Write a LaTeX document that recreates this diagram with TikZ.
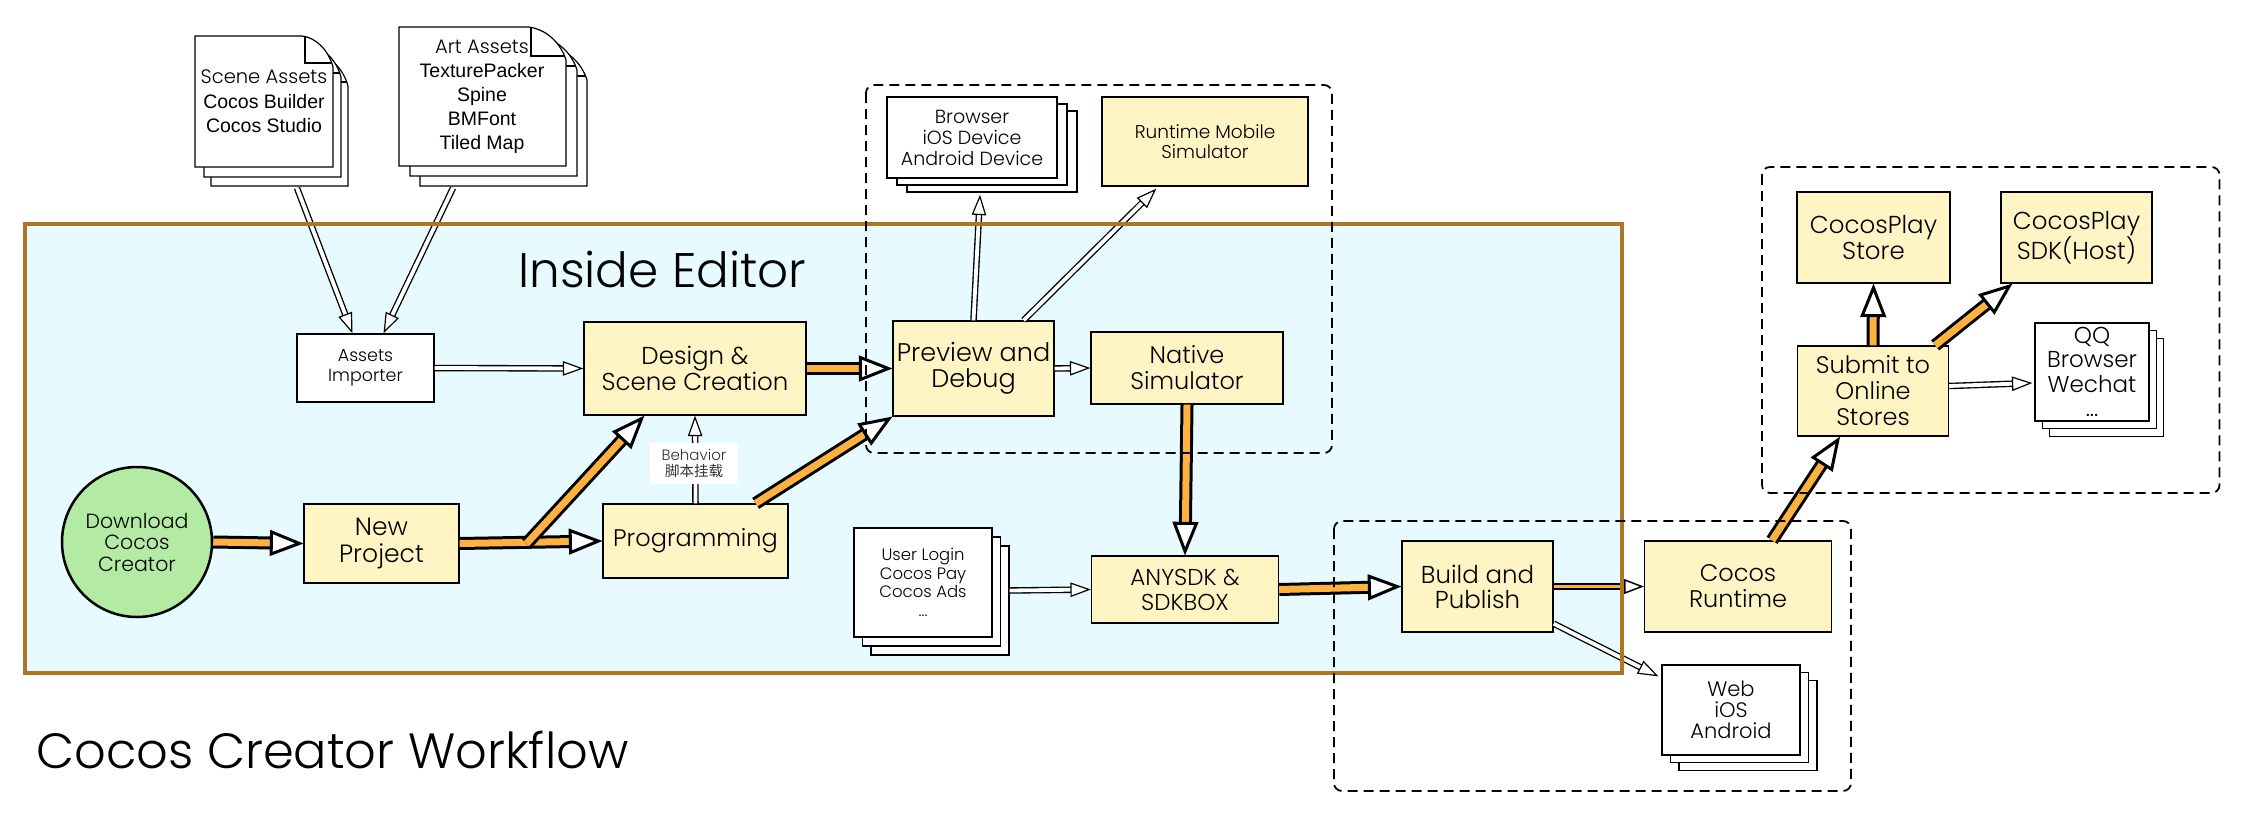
\documentclass[tikz,border=0pt]{standalone}
\usepackage{fontspec}
\setmainfont{Poppins Light}
\newfontfamily\arialf{Liberation Sans}
\newfontfamily\cjk{Noto Sans CJK SC}
\usetikzlibrary{calc}
\definecolor{boxy}{HTML}{FFF5C4}
\definecolor{edbg}{HTML}{E6FAFF}
\definecolor{edborder}{HTML}{AF7621}
\definecolor{dlgreen}{HTML}{B3EBA5}
\definecolor{arrorange}{HTML}{FDB13F}
\newcommand\fs[2]{\fontsize{#1bp}{#2bp}\selectfont}
% generic arrow: #1 outer body, #2 inner body, #3 inner colour, #4 head length,
% #5 head half width, #6 head outline, #7 tip inset, #8 start, #9 end
\newcommand\arrowX[9]{%
  \coordinate (aS) at (#8);
  \coordinate (aE) at (#9);
  \coordinate (aT) at ($(aE)!#7bp!(aS)$);
  \coordinate (aB) at ($(aT)!#4bp!(aS)$);
  \coordinate (aC) at ($(aB)!-1bp!(aS)$);
  \draw[line width=#1bp, black] (aS) -- (aC);
  \draw[line width=#2bp, #3] (aS) -- (aC);
  \draw[line width=#6bp, fill=white, line join=miter, miter limit=20]
     (aT) -- ($(aB)!#5bp!90:(aT)$) -- ($(aB)!#5bp!-90:(aT)$) -- cycle;
}
\newcommand\fatarr[2]{\arrowX{13}{7}{arrorange}{28}{11}{3}{4}{#1}{#2}}
\newcommand\smallarr[2]{\arrowX{7}{3.6}{arrorange}{17}{6.5}{1.5}{2}{#1}{#2}}
\newcommand\dblarr[2]{\arrowX{6.5}{3.8}{white}{18}{6.5}{1.2}{1.8}{#1}{#2}}
% page with curled corner: x0 y0 x1 y1 fw fh
\newcommand\docpage[6]{%
  \draw[line width=1.2bp, fill=white] (#1,#2) -- ({#3-#5},#2)
     .. controls ({#3-#5*0.55},{#2+#6*0.05}) and ({#3-#5*0.15},{#2+#6*0.45}) .. (#3,{#2+#6})
     -- (#3,#4) -- (#1,#4) -- cycle;
  \draw[line width=1.2bp] ({#3-#5+3},#2) -- ({#3-#5+3},{#2+#6-4}) -- ({#3-1},{#2+#6-4});
}
% back pages of a stack: cx cy w h dx dy
\newcommand\stackback[6]{%
  \foreach \k in {2,1}{%
    \draw[line width=1.3bp, fill=white] ({#1-#3/2+\k*#5},{#2-#4/2+\k*#6}) rectangle ({#1+#3/2+\k*#5},{#2+#4/2+\k*#6});
  }%
}
\tikzset{
  ybox/.style={draw=black, line width=1.3bp, fill=boxy, align=center, inner sep=0pt},
  wbox/.style={draw=black, line width=1.3bp, fill=white, align=center, inner sep=0pt},
  dashbox/.style={draw=black, line width=1.8bp, dash pattern=on 10bp off 6bp, rounded corners=8bp},
}
\begin{document}
\begin{tikzpicture}[x=1bp, y=-1bp]
\useasboundingbox (0,0) rectangle (2248,819);
\fill[white] (0,0) rectangle (2248,819);
% editor background
\fill[edbg] (25,224) rectangle (1622,673);

% asset documents
\docpage{211}{55}{348}{186}{31}{31}
\docpage{204}{46}{341}{177}{31}{31}
\docpage{195}{36}{333}{167}{31}{31}
\node[align=center, font=\fs{19.5}{24.5}] (sceneA) at (264,101.5)
  {Scene Assets\\{\arialf Cocos Builder}\\{\arialf Cocos Studio}};
\docpage{420}{47}{587}{186}{38}{33}
\docpage{410}{37}{577}{176}{38}{33}
\docpage{399}{27}{566}{166}{38}{33}
\node[align=center, font=\fs{19.5}{24}] (artA) at (482,97)
  {Art Assets\\{\arialf TexturePacker}\\{\arialf Spine}\\{\arialf BMFont}\\{\arialf Tiled Map}};
\coordinate (sceneOut) at (297,188);
\coordinate (artOut) at (453,188);

% editor nodes
\node[wbox, minimum width=137bp, minimum height=68bp, font=\fs{17.5}{20}] (importer) at (365.5,368) {Assets\\Importer};
\node[ybox, minimum width=222bp, minimum height=93bp, font=\fs{24.5}{26}] (design) at (695,368.5) {Design \&\\Scene Creation};
\node[circle, draw=black, line width=2.5bp, fill=dlgreen, minimum size=150bp, inner sep=0pt, align=center, font=\fs{20.5}{21.5}] (download) at (137,542) {Download\\Cocos\\Creator};
\node[ybox, minimum width=155bp, minimum height=79bp, font=\fs{25}{27}] (newproj) at (381.5,543.5) {New\\Project};
\node[ybox, minimum width=185bp, minimum height=74bp, font=\fs{24}{27}] (prog) at (695.5,541) {Programming};
\node[ybox, minimum width=161bp, minimum height=95bp, font=\fs{25.5}{26}] (preview) at (973.5,368.5) {Preview and\\Debug};
\node[ybox, minimum width=192bp, minimum height=72bp, font=\fs{24}{26}] (native) at (1187,368) {Native\\Simulator};
\stackback{972}{137.5}{170}{81}{10}{7}
\node[wbox, minimum width=170bp, minimum height=81bp, font=\fs{19}{21}] (bstack) at (972,137.5) {Browser\\iOS Device\\Android Device};
\node[ybox, minimum width=206bp, minimum height=89bp, font=\fs{18.5}{20}] (rms) at (1205,141.5) {Runtime Mobile\\Simulator};
\stackback{923}{582.5}{138}{109}{8.5}{9}
\node[wbox, minimum width=138bp, minimum height=109bp, font=\fs{16.5}{18.5}] (ulogin) at (923,582.5) {User Login\\Cocos Pay\\Cocos Ads\\...};
\node[ybox, minimum width=187bp, minimum height=67bp, font=\fs{23}{25}] (anysdk) at (1185,589.5) {ANYSDK \&\\SDKBOX};
\node[ybox, minimum width=151bp, minimum height=91bp, font=\fs{24.5}{25}] (build) at (1477.5,586.5) {Build and\\Publish};
\node[ybox, minimum width=187bp, minimum height=91bp, font=\fs{24}{26}] (runtime) at (1738,586.5) {Cocos\\Runtime};
\stackback{1731}{710}{138}{90}{8.5}{7.7}
\node[wbox, minimum width=138bp, minimum height=90bp, font=\fs{21}{21}] (web) at (1731,710) {Web\\iOS\\Android};
\node[ybox, minimum width=153bp, minimum height=91bp, font=\fs{24.5}{26}] (cpstore) at (1873.5,237.5) {CocosPlay\\Store};
\node[ybox, minimum width=151bp, minimum height=91bp, font=\fs{24.5}{26}] (cpsdk) at (2076.5,237.5) {CocosPlay\\SDK(Host)};
\node[ybox, minimum width=151bp, minimum height=90bp, font=\fs{24}{26}] (submit) at (1873,391) {Submit to\\Online\\Stores};
\stackback{2092}{372}{114}{98}{7.3}{7.8}
\node[wbox, minimum width=114bp, minimum height=98bp, font=\fs{23}{24.5}] (qq) at (2092,372) {QQ\\Browser\\Wechat\\...};

% connectors
\dblarr{sceneOut}{$(importer.north)+(-13,0)$}
\dblarr{artOut}{$(importer.north)+(18,0)$}
\dblarr{importer.east}{design.west}
\dblarr{prog.north}{design.south}
\dblarr{preview.east}{native.west}
\dblarr{preview.north}{$(bstack.south)+(8,16)$}
\dblarr{$(preview.north east)+(-31,0)$}{$(rms.south west)+(55,2)$}
\dblarr{$(ulogin.east)+(17,8)$}{anysdk.west}
\dblarr{$(build.south east)+(0,-9)$}{$(web.north west)+(-3,12)$}
\dblarr{$(submit.east)+(0,-5)$}{$(qq.west)+(-2,11)$}
\fatarr{download.east}{newproj.west}
\fatarr{newproj.east}{prog.west}
\fatarr{$(newproj.east)+(67,0)$}{$(design.south west)+(61,0)$}
\fatarr{design.east}{preview.west}
\fatarr{$(prog.north east)+(-33,0)$}{preview.south west}
\fatarr{native.south}{anysdk.north}
\fatarr{anysdk.east}{build.west}
\smallarr{build.east}{runtime.west}
\fatarr{$(runtime.north)+(34,0)$}{$(submit.south)+(-33,0)$}
\fatarr{submit.north}{cpstore.south}
\fatarr{$(submit.north east)+(-14,0)$}{$(cpsdk.south west)+(12,0)$}

\node[fill=white, inner sep=0pt, minimum width=88bp, minimum height=41bp, align=center, font=\fs{15}{16}, text=black!80] (behav) at (694,463.5) {Behavior\\{\cjk\fs{14.5}{16}脚本挂载}};

% editor border and groups
\draw[edborder, line width=4bp] (25,224) rectangle (1622,673);
\draw[dashbox] (866,85) rectangle (1332,453);
\draw[dashbox] (1334,521) rectangle (1851,791);
\draw[dashbox] (1762,167) rectangle (2219.5,493);

\node[anchor=base west, font=\fs{48.5}{50}, inner sep=0pt] (edtitle) at (518,287) {Inside Editor};
\node[anchor=base west, font=\fs{49.5}{55}, inner sep=0pt] (title) at (36,768) {Cocos Creator Workflow};
\end{tikzpicture}
\end{document}
